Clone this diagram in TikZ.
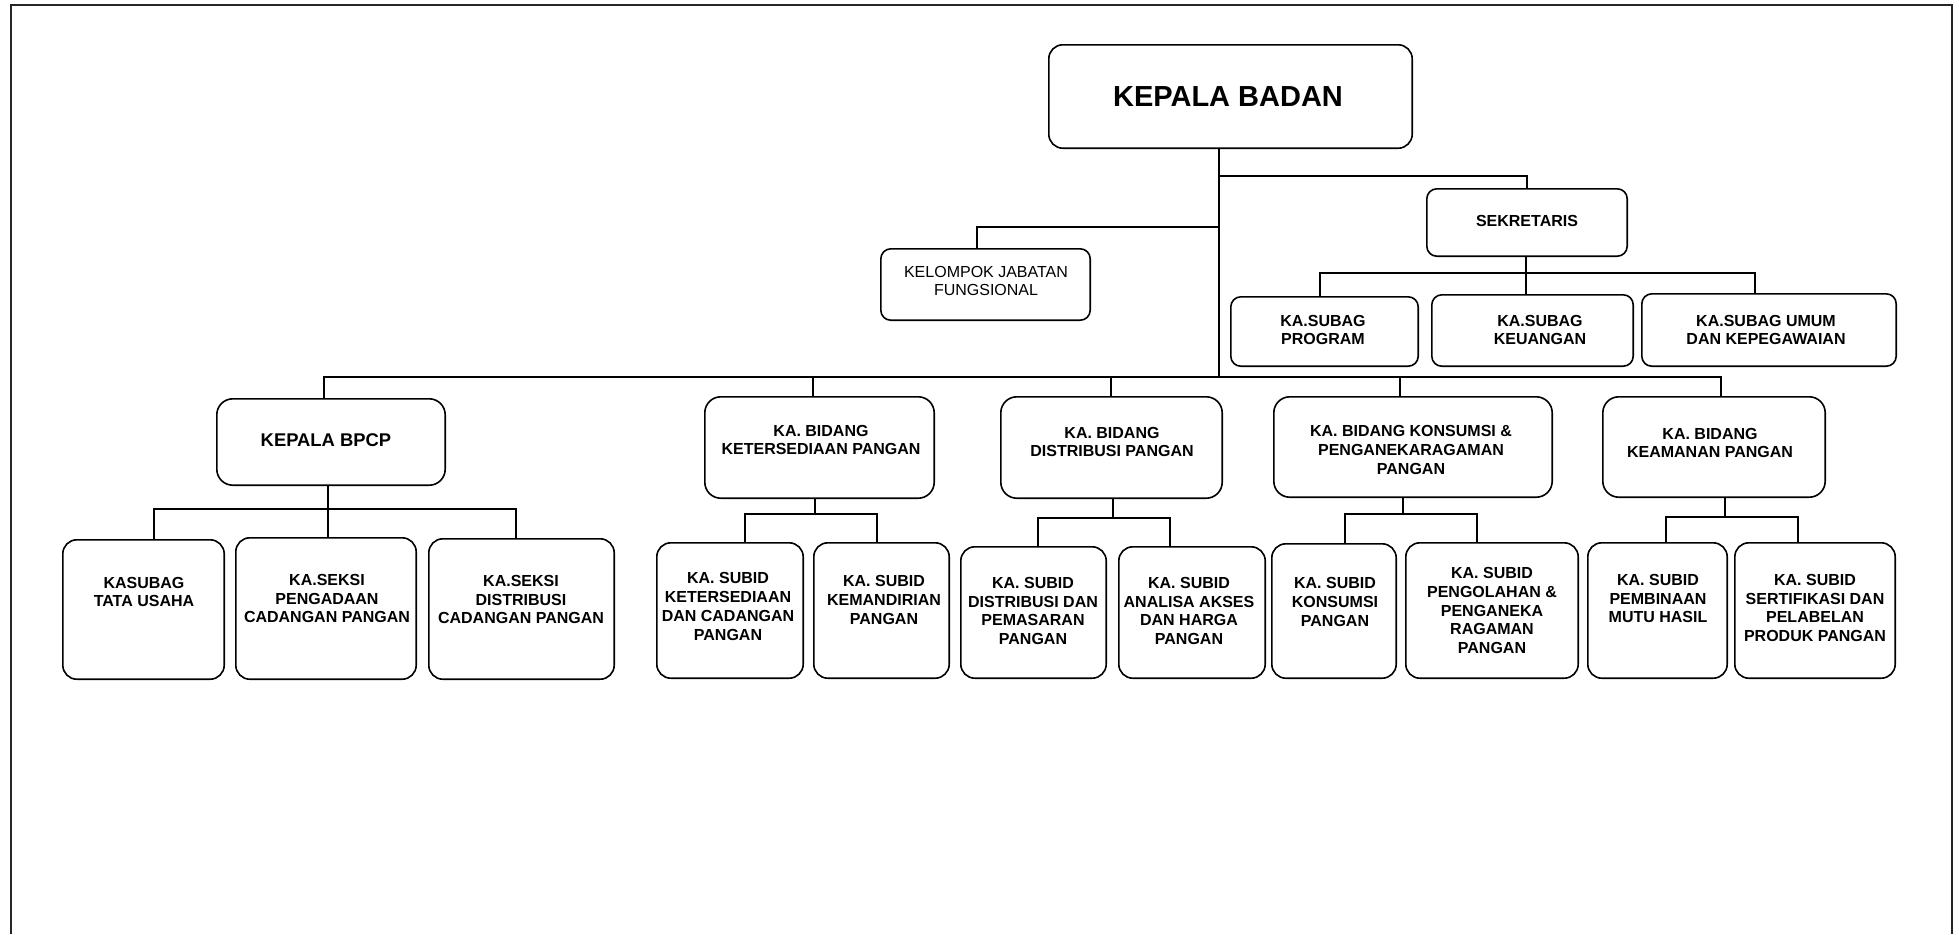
\documentclass[tikz,border=0pt]{standalone}
\usepackage{fontspec}
\setmainfont{Liberation Sans}
\tikzset{
  boxst/.style={draw, line width=0.8pt, rounded corners=#1, inner sep=0pt},
  boxst/.default=7pt,
  lbl/.style={align=center, inner sep=0pt, font=\fontsize{8}{9.4}\selectfont\bfseries},
  conn/.style={line width=0.55pt},
  trunk/.style={line width=1.3pt},
}
% \obox{radius}{name}{x1}{y1}{x2}{y2}{tx}{ty}, text taken from \obtext
\newcommand{\obox}[8]{%
  \node[boxst=#1, minimum width={(#5-#3)*0.5pt-0.8pt}, minimum height={(#6-#4)*0.5pt-0.8pt}] (#2) at ({(#3+#5)/2},{(#4+#6)/2}) {};
  \node[lbl] (#2-t) at (#7,#8) {\obtext};
}
\begin{document}
\begin{tikzpicture}[x=0.5pt, y=-0.5pt]
\useasboundingbox (0,0) rectangle (1959,934);
\draw[line width=1pt, black!85] (11,934) -- (11,5) -- (1952,5) -- (1952,934);

% top
\def\obtext{\fontsize{14.5}{16}\selectfont KEPALA BADAN}
\obox{7pt}{badan}{1048}{44}{1413}{149}{1228}{96.5}
\def\obtext{SEKRETARIS}
\obox{5pt}{sek}{1426}{188}{1628}{257}{1527}{221}
\def\obtext{\mdseries KELOMPOK JABATAN\\\mdseries FUNGSIONAL}
\obox{5pt}{kel}{880}{248}{1091}{321}{986}{281}
\def\obtext{KA.SUBAG\\PROGRAM}
\obox{5pt}{prog}{1230}{296}{1419}{367}{1323}{330}
\def\obtext{KA.SUBAG\\KEUANGAN}
\obox{5pt}{keu}{1431}{294}{1634}{367}{1540}{330}
\def\obtext{KA.SUBAG UMUM\\DAN KEPEGAWAIAN}
\obox{5pt}{umum}{1641}{293}{1897}{367}{1766}{330}

% row 2
\def\obtext{\fontsize{9.2}{11}\selectfont KEPALA BPCP}
\obox{8pt}{bpcp}{216}{398}{446}{486}{326}{440}
\def\obtext{KA. BIDANG\\KETERSEDIAAN PANGAN}
\obox{8pt}{ket}{704}{396}{935}{499}{821}{440}
\def\obtext{KA. BIDANG\\DISTRIBUSI PANGAN}
\obox{8pt}{dis}{1000}{396}{1223}{499}{1112}{442}
\def\obtext{KA. BIDANG KONSUMSI \&\\PENGANEKARAGAMAN\\PANGAN}
\obox{8pt}{kons}{1273}{396}{1553}{498}{1411}{450}
\def\obtext{KA. BIDANG\\KEAMANAN PANGAN}
\obox{8pt}{keam}{1602}{396}{1826}{498}{1710}{443}

% row 3
\def\obtext{KASUBAG\\TATA USAHA}
\obox{7pt}{tu}{62}{539}{225}{680}{144}{592}
\def\obtext{KA.SEKSI\\PENGADAAN\\CADANGAN PANGAN}
\obox{7pt}{peng}{235}{537}{417}{680}{327}{598.5}
\def\obtext{KA.SEKSI\\DISTRIBUSI\\CADANGAN PANGAN}
\obox{7pt}{sdis}{428}{538}{615}{680}{521}{599.5}
\def\obtext{KA. SUBID\\KETERSEDIAAN\\DAN CADANGAN\\PANGAN}
\obox{7pt}{sket}{656}{542}{804}{679}{728}{606.5}
\def\obtext{KA. SUBID\\KEMANDIRIAN\\PANGAN}
\obox{7pt}{smand}{813}{542}{950}{679}{884}{600}
\def\obtext{KA. SUBID\\DISTRIBUSI DAN\\PEMASARAN\\PANGAN}
\obox{7pt}{sdist}{960}{546}{1107}{679}{1033}{611}
\def\obtext{KA. SUBID\\ANALISA AKSES\\DAN HARGA\\PANGAN}
\obox{7pt}{sakses}{1118}{546}{1266}{679}{1189}{611}
\def\obtext{KA. SUBID\\KONSUMSI\\PANGAN}
\obox{7pt}{skons}{1271}{543}{1397}{679}{1335}{602}
\def\obtext{KA. SUBID\\PENGOLAHAN \&\\PENGANEKA\\RAGAMAN\\PANGAN}
\obox{7pt}{soleh}{1405}{542}{1579}{679}{1492}{610.5}
\def\obtext{KA. SUBID\\PEMBINAAN\\MUTU HASIL}
\obox{7pt}{sbina}{1587}{542}{1728}{679}{1658}{598.5}
\def\obtext{KA. SUBID\\SERTIFIKASI DAN\\PELABELAN\\PRODUK PANGAN}
\obox{7pt}{ssert}{1734}{542}{1896}{679}{1815}{608}

% top connectors
\coordinate (tk) at (1219,377);
\coordinate (sekbus) at (1219,176);
\coordinate (kelbus) at (1219,227);
\coordinate (keld) at (977,227);
\draw[trunk] (badan.south -| tk) -- (tk);
\draw[conn] (sekbus) -| (sek.north);
\draw[conn] (kelbus) -- (keld) -- (keld |- kel.north);

\coordinate (sd) at (1526,273);
\coordinate (sL) at (1320,273);
\coordinate (sR) at (1755,273);
\draw[trunk] (sek.south -| sd) -- (sd |- keu.north);
\draw[conn] (sL |- prog.north) |- (sR) -- (sR |- umum.north);

% row bus
\coordinate (rL) at (324,377);
\coordinate (rR) at (1721,377);
\coordinate (d2) at (813,377);
\coordinate (d3) at (1111,377);
\coordinate (d4) at (1400,377);
\draw[conn] (rL |- bpcp.north) |- (rR) -- (rR |- keam.north);
\draw[conn] (d2) -- (d2 |- ket.north);
\draw[conn] (d3) -- (d3 |- dis.north);
\draw[conn] (d4) -- (d4 |- kons.north);

% sub connectors
\coordinate (b1M) at (328,509);
\coordinate (b1L) at (154,509);
\coordinate (b1R) at (516,509);
\draw[conn] (bpcp.south -| b1M) -- (b1M |- peng.north);
\draw[conn] (b1L |- tu.north) |- (b1R) -- (b1R |- sdis.north);

\coordinate (b2M) at (815,514);
\coordinate (b2L) at (745,514);
\coordinate (b2R) at (877,514);
\draw[conn] (ket.south -| b2M) -- (b2M);
\draw[conn] (b2L |- sket.north) |- (b2R) -- (b2R |- smand.north);

\coordinate (b3M) at (1113,518);
\coordinate (b3L) at (1038,518);
\coordinate (b3R) at (1170,518);
\draw[conn] (dis.south -| b3M) -- (b3M);
\draw[conn] (b3L |- sdist.north) |- (b3R) -- (b3R |- sakses.north);

\coordinate (b4M) at (1403,514);
\coordinate (b4L) at (1345,514);
\coordinate (b4R) at (1477,514);
\draw[conn] (kons.south -| b4M) -- (b4M);
\draw[conn] (b4L |- skons.north) |- (b4R) -- (b4R |- soleh.north);

\coordinate (b5M) at (1725,517);
\coordinate (b5L) at (1666,517);
\coordinate (b5R) at (1798,517);
\draw[conn] (keam.south -| b5M) -- (b5M);
\draw[conn] (b5L |- sbina.north) |- (b5R) -- (b5R |- ssert.north);
\end{tikzpicture}
\end{document}
